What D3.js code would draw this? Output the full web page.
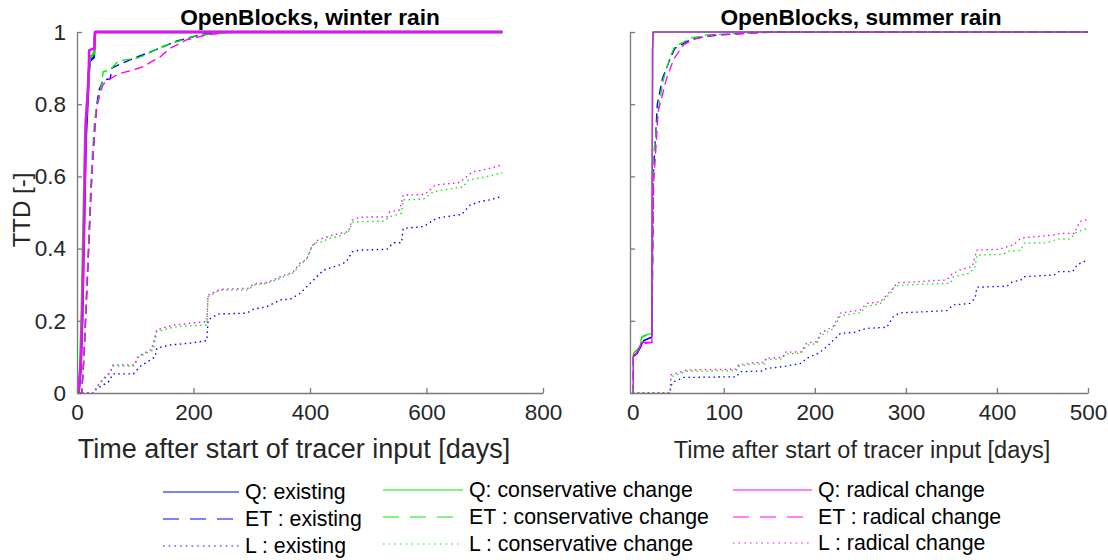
<!DOCTYPE html>
<html><head><meta charset="utf-8">
<script src="https://cdn.jsdelivr.net/npm/d3@7"></script>
<style>body{margin:0;background:#fff;}svg{display:block;font-family:Arial,"Liberation Sans",sans-serif;}</style>
</head><body><svg id="c" width="1108" height="560"></svg>
<script>
// ---------- DATA ----------
const panelTitles = ["OpenBlocks, winter rain", "OpenBlocks, summer rain"];
const xLabel = "Time after start of tracer input [days]";
const yLabel = "TTD [-]";
const winterXTicks = [0, 200, 400, 600, 800];
const summerXTicks = [0, 100, 200, 300, 400, 500];
const yTicks = [0, 0.2, 0.4, 0.6, 0.8, 1];
const scenarios = ["existing", "conservative change", "radical change"];
const fluxes = ["Q", "ET", "L"];
const legendLabels = [
  ["Q: existing", "ET : existing", "L : existing"],
  ["Q: conservative change", "ET : conservative change", "L : conservative change"],
  ["Q: radical change", "ET : radical change", "L : radical change"]
];

// winter rain [day, TTD]
const winterQExisting = [[0,0],[3,0],[6,0.06],[9,0.2],[12,0.45],[15,0.7],[18,0.8],[20,0.88],[22,0.92],[29,0.93],[31,1],[730,1]];
const winterQConservative = [[0,0],[2,0],[5,0.06],[8,0.22],[11,0.47],[14,0.72],[17,0.8],[20,0.88],[22,0.93],[29,0.94],[31,1],[730,1]];
const winterQRadical = [[0,0],[2,0],[5,0.05],[7,0.1],[10,0.3],[12,0.45],[15,0.75],[17,0.8],[19,0.84],[21,0.95],[30,0.955],[31,1],[730,1]];
const winterETExisting = [[0,0],[8,0],[12,0.1],[16,0.25],[20,0.4],[23,0.52],[26,0.62],[30,0.72],[34,0.8],[38,0.84],[45,0.867],[57,0.87],[60,0.9],[77,0.913],[102,0.93],[142,0.955],[171,0.975],[216,0.994],[250,1],[730,1]];
const winterETConservative = [[0,0],[8,0],[12,0.1],[16,0.27],[20,0.42],[23,0.55],[26,0.65],[30,0.75],[34,0.8],[39.5,0.83],[45,0.89],[57,0.895],[71,0.92],[102,0.927],[120,0.938],[142,0.957],[171,0.973],[200,0.987],[234,0.996],[280,1],[730,1]];
const winterETRadical = [[0,0],[8,0],[12,0.1],[16,0.25],[20,0.4],[23,0.52],[26,0.62],[30,0.72],[34,0.79],[39.5,0.83],[45,0.855],[57,0.87],[71,0.884],[97,0.895],[114,0.904],[128,0.918],[142,0.93],[160,0.955],[188,0.978],[223,0.992],[264,1],[730,1]];
const winterLExisting = [[0,0],[28,0],[34,0.013],[45,0.022],[54,0.031],[62,0.053],[97,0.053],[108,0.073],[134,0.1],[137,0.124],[160,0.133],[194,0.138],[223,0.145],[225,0.202],[242,0.219],[291,0.221],[303,0.232],[326,0.239],[349,0.258],[366,0.26],[383,0.276],[406,0.313],[423,0.34],[451,0.355],[463,0.364],[472,0.391],[486,0.396],[532,0.398],[543,0.416],[557,0.416],[560,0.456],[595,0.461],[617,0.484],[652,0.493],[660,0.494],[675,0.521],[692,0.53],[709,0.535],[730,0.545]];
const winterLConservative = [[0,0],[28,0],[39.5,0.027],[57,0.055],[62,0.075],[97,0.075],[105,0.099],[131,0.119],[137,0.17],[165,0.182],[188,0.186],[223,0.188],[225,0.267],[245,0.285],[294,0.285],[303,0.299],[326,0.304],[349,0.318],[371,0.333],[383,0.355],[394,0.37],[406,0.415],[423,0.419],[429,0.426],[451,0.435],[466,0.447],[474,0.474],[526,0.476],[537,0.488],[557,0.498],[560,0.535],[595,0.537],[612,0.558],[663,0.571],[672,0.59],[703,0.599],[730,0.61]];
const winterLRadical = [[0,0],[28,0],[39.5,0.03],[57,0.059],[62,0.078],[99,0.078],[105,0.102],[128,0.121],[137,0.175],[165,0.188],[223,0.198],[225,0.271],[245,0.287],[294,0.29],[303,0.302],[326,0.306],[349,0.322],[371,0.335],[383,0.36],[394,0.37],[403,0.405],[414,0.424],[440,0.438],[466,0.447],[472,0.479],[486,0.487],[532,0.488],[537,0.502],[554,0.507],[560,0.548],[597,0.55],[609,0.567],[615,0.576],[657,0.583],[672,0.604],[680,0.613],[703,0.62],[730,0.632]];

// summer rain [day, TTD]
const summerQExisting = [[0,0],[0.7,0],[0.7,0.1],[5,0.11],[8,0.125],[12,0.145],[21,0.155],[22,1],[500,1]];
const summerQConservative = [[0,0],[0.7,0],[0.7,0.11],[5,0.12],[8,0.13],[10,0.155],[13,0.16],[21,0.165],[22,1],[500,1]];
const summerQRadical = [[0,0],[0.7,0],[0.7,0.105],[4,0.11],[7,0.12],[9,0.135],[10,0.14],[21,0.14],[21.5,0.95],[23,1],[500,1]];
const summerETExisting = [[0,0],[0.7,0],[0.7,0.1],[5,0.11],[8,0.125],[12,0.145],[21,0.155],[22.6,0.6],[27,0.8],[32.5,0.87],[41,0.925],[46.4,0.955],[63,0.978],[77.5,0.987],[96,0.992],[150,1],[500,1]];
const summerETConservative = [[0,0],[0.7,0],[0.7,0.11],[5,0.12],[8,0.13],[10,0.155],[21,0.165],[22.6,0.65],[28,0.784],[33.6,0.867],[41,0.93],[46,0.959],[63,0.982],[81,0.992],[114,0.996],[164,1],[500,1]];
const summerETRadical = [[0,0],[0.7,0],[0.7,0.105],[4,0.11],[9,0.135],[21,0.14],[23,0.58],[28,0.78],[37,0.87],[45,0.925],[56,0.965],[67,0.98],[89,0.992],[150,0.999],[500,1]];
const summerLExisting = [[0,0],[41,0],[42,0.02],[45,0.031],[56,0.043],[114,0.045],[118,0.059],[143,0.061],[147,0.068],[165,0.073],[185,0.082],[191,0.096],[204,0.11],[213,0.128],[228,0.165],[243,0.168],[257,0.179],[279,0.182],[286,0.211],[293,0.222],[345,0.228],[352,0.244],[370,0.248],[376,0.262],[378,0.293],[411,0.296],[417,0.308],[426,0.312],[430,0.322],[463,0.327],[468,0.336],[483,0.336],[488,0.355],[499,0.368]];
const summerLConservative = [[0,0],[41,0],[42,0.045],[54,0.056],[59,0.06],[114,0.062],[116,0.074],[133,0.08],[145,0.081],[146,0.092],[165,0.095],[167,0.108],[185,0.11],[191,0.132],[202,0.137],[206,0.158],[220,0.178],[228,0.214],[250,0.222],[257,0.24],[272,0.248],[283,0.276],[288,0.296],[304,0.3],[349,0.304],[352,0.322],[370,0.332],[376,0.35],[378,0.382],[407,0.384],[413,0.393],[426,0.395],[430,0.415],[455,0.416],[466,0.426],[480,0.426],[488,0.447],[500,0.456]];
const summerLRadical = [[0,0],[41,0],[42,0.05],[54,0.059],[59,0.064],[114,0.066],[116,0.078],[133,0.084],[145,0.085],[146,0.096],[165,0.099],[167,0.113],[185,0.114],[191,0.138],[202,0.142],[206,0.165],[220,0.184],[228,0.221],[250,0.23],[257,0.248],[272,0.253],[286,0.29],[290,0.305],[345,0.313],[349,0.326],[359,0.341],[373,0.35],[378,0.396],[402,0.398],[418,0.41],[426,0.428],[430,0.43],[463,0.438],[470,0.442],[485,0.442],[491,0.475],[500,0.481]];

// ---------- STYLE ----------
const colors = ["#0000ff", "#00ee00", "#ff00ff"];
const svg = d3.select("#c");

const winterSeries = [
  [winterLExisting, winterLConservative, winterLRadical],
  [winterETExisting, winterETConservative, winterETRadical],
  [winterQExisting, winterQConservative, winterQRadical]
];
const summerSeries = [
  [summerLExisting, summerLConservative, summerLRadical],
  [summerETExisting, summerETConservative, summerETRadical],
  [summerQExisting, summerQConservative, summerQRadical]
];

const panels = [
  {title: panelTitles[0], xDomain: [0, 800], xRange: [77, 543], ticks: winterXTicks, series: winterSeries,
   showYLabels: true, widths: [1.4, 1.4, 2.4], dash: ["1.5,3.5", "9,5", null], xLabelX: 294, xLabelSize: 27},
  {title: panelTitles[1], xDomain: [-3, 500], xRange: [630, 1088], ticks: summerXTicks, series: summerSeries,
   showYLabels: false, widths: [1.3, 1.3, 1.2], dash: ["1.5,3.5", "9,5", null], xLabelX: 862, xLabelSize: 23.5}
];

const yRange = [393, 32];
const axisColor = "#7a7a7a";
const textColor = "#262626";

panels.forEach((p, pi) => {
  const x = d3.scaleLinear().domain(p.xDomain).range(p.xRange);
  const y = d3.scaleLinear().domain([0, 1]).range(yRange);
  const g = svg.append("g");

  const clipId = "clip" + pi;
  svg.append("clipPath").attr("id", clipId).append("rect")
    .attr("x", p.xRange[0]).attr("y", yRange[1] - 3)
    .attr("width", p.xRange[1] - p.xRange[0]).attr("height", yRange[0] - yRange[1] + 3);

  const line = d3.line().x(d => x(d[0])).y(d => y(d[1]));
  const lg = g.append("g").attr("clip-path", `url(#${clipId})`);
  p.series.forEach((group, fi) => {
    group.forEach((data, si) => {
      lg.append("path").datum(data).attr("d", line)
        .attr("fill", "none").attr("stroke", colors[si])
        .attr("stroke-width", p.widths[fi])
        .attr("stroke-dasharray", p.dash[fi])
        .attr("stroke-linejoin", "round");
    });
  });

  // axes
  const xAxis = d3.axisBottom(x).tickValues(p.ticks).tickSizeInner(-5).tickSizeOuter(0).tickPadding(11).tickFormat(d3.format("d"));
  const xg = g.append("g").attr("transform", `translate(0,${yRange[0]})`).call(xAxis);
  const yAxis = d3.axisLeft(y).tickValues(yTicks).tickSizeInner(-5).tickSizeOuter(0).tickPadding(11)
    .tickFormat(p.showYLabels ? (d => d3.format("~g")(d)) : (() => ""));
  const yg = g.append("g").attr("transform", `translate(${p.xRange[0]},0)`).call(yAxis);
  [xg, yg].forEach(a => {
    a.select(".domain").attr("stroke", axisColor).attr("stroke-width", 1.3);
    a.selectAll(".tick line").attr("stroke", axisColor).attr("stroke-width", 1.3);
    a.selectAll(".tick text").attr("fill", textColor).attr("font-size", 22.5).attr("font-family", "Arial, 'Liberation Sans', sans-serif");
  });
  xg.selectAll(".tick text").attr("dy", "0.71em");

  // title
  g.append("text").attr("x", (p.xRange[0] + p.xRange[1]) / 2 + (pi === 1 ? 2 : 0)).attr("y", 25)
    .attr("text-anchor", "middle").attr("font-weight", "bold").attr("font-size", 22.7)
    .attr("fill", "#000").text(p.title);
  // x label
  g.append("text").attr("x", p.xLabelX).attr("y", 458)
    .attr("text-anchor", "middle").attr("font-size", p.xLabelSize).attr("fill", textColor).text(xLabel);
});

// y label
svg.append("text").attr("transform", "translate(30,210) rotate(-90)")
  .attr("text-anchor", "middle").attr("font-size", 24).attr("fill", textColor).text(yLabel);

// legend
const legendCols = [
  {x1: 163, x2: 239, tx: 245, ys: [492, 519, 546]},
  {x1: 383, x2: 463, tx: 469, ys: [490, 517, 544]},
  {x1: 733, x2: 812, tx: 818, ys: [490, 517, 543]}
];
const legendDash = ["", "16,11", "1.5,4.2"];
const lgRoot = svg.append("g");
legendCols.forEach((c, si) => {
  fluxes.forEach((f, fi) => {
    lgRoot.append("line").attr("x1", c.x1).attr("x2", c.x2).attr("y1", c.ys[fi]).attr("y2", c.ys[fi])
      .attr("stroke", colors[si]).attr("stroke-width", 1.2)
      .attr("stroke-dasharray", legendDash[fi] || null);
    lgRoot.append("text").attr("x", c.tx).attr("y", c.ys[fi]).attr("dy", "0.35em")
      .attr("font-size", 21.3).attr("fill", "#000").text(legendLabels[si][fi]);
  });
});
</script></body></html>
